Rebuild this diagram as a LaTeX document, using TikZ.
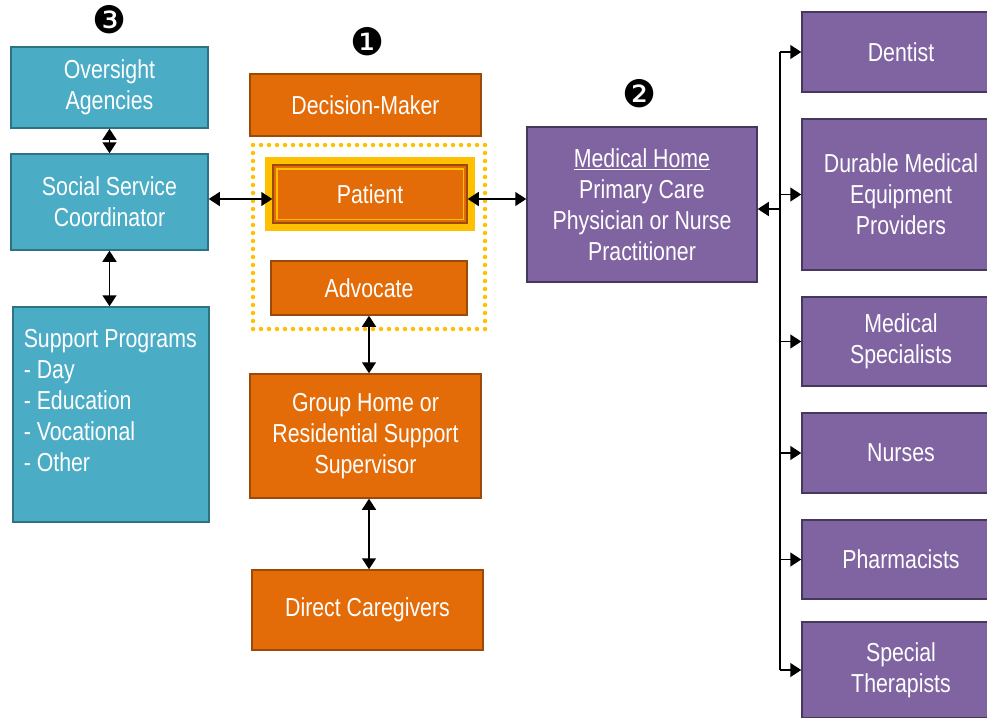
\documentclass[tikz,border=0pt]{standalone}
\usepackage{fontspec}
\setmainfont[FakeStretch=0.82]{Liberation Sans}
\newfontfamily\dingfont{DejaVu Sans}
\usetikzlibrary{arrows.meta}
\definecolor{tealfill}{HTML}{4BACC6}
\definecolor{tealline}{HTML}{2E7384}
\definecolor{orfill}{HTML}{E36C09}
\definecolor{orline}{HTML}{9C4A0A}
\definecolor{pufill}{HTML}{8064A2}
\definecolor{puline}{HTML}{46385C}
\definecolor{gold}{HTML}{FFC000}
\tikzset{
  basebox/.style={rectangle, line width=1.5pt, text=white, align=center,
    font=\fontsize{26}{31}\selectfont, inner sep=2pt},
  tealbox/.style={basebox, fill=tealfill, draw=tealline},
  orbox/.style={basebox, fill=orfill, draw=orline},
  pubox/.style={basebox, fill=pufill, draw=puline},
  dbl/.style={line width=1.5pt, {Triangle[width=14pt,length=11pt]}-{Triangle[width=14pt,length=11pt]}},
  sgl/.style={line width=1.5pt, -{Triangle[width=14pt,length=11pt]}},
  numlabel/.style={font=\dingfont\fontsize{38}{38}\selectfont, inner sep=0pt}
}
\begin{document}
\begin{tikzpicture}[x=1pt,y=-1pt]
\useasboundingbox (0,0) rectangle (987,717);

% numbers
\node[numlabel] (n3) at (110,20) {❸};
\node[numlabel] (n1) at (368,42) {❶};
\node[numlabel] (n2) at (640,94) {❷};

% left column
\node[tealbox, minimum width=197pt, minimum height=81pt] (ovs) at (109.5,87.5) {Oversight\\Agencies};
\node[tealbox, minimum width=197pt, minimum height=96pt] (ssc) at (109.5,202) {Social Service\\Coordinator};
\node[tealbox, minimum width=196pt, minimum height=215pt] (sup) at (111,414.5) {};
\node[basebox, anchor=north west, align=left] (supt) at (21,327) {Support Programs\\- Day\\- Education\\- Vocational\\- Other};

% center column
\node[orbox, minimum width=231pt, minimum height=62pt] (dm) at (365.5,105) {Decision-Maker};
\node[draw=gold, line width=4.5pt, line cap=round, dash pattern=on 0pt off 8pt,
      minimum width=232pt, minimum height=184pt, inner sep=0pt] (team) at (369,237) {};
\node[orbox, minimum width=194pt, minimum height=58pt] (pat) at (370,194) {Patient};
\draw[gold, line width=7pt] ([shift={(-3.5pt,-3.5pt)}]pat.south west) rectangle ([shift={(3.5pt,3.5pt)}]pat.north east);
\draw[gold, line width=1.5pt] ([shift={(4.5pt,4.5pt)}]pat.south west) rectangle ([shift={(-4.5pt,-4.5pt)}]pat.north east);
\node[orbox, minimum width=196pt, minimum height=54pt] (adv) at (369,288) {Advocate};
\node[orbox, minimum width=231pt, minimum height=124pt] (grp) at (365.5,436) {Group Home or\\Residential Support\\Supervisor};
\node[orbox, minimum width=231pt, minimum height=80pt] (dc) at (367.5,610) {Direct Caregivers};

% medical home
\node[pubox, minimum width=230pt, minimum height=155pt] (mh) at (642,204.5) {\underline{Medical Home}\\Primary Care\\Physician or Nurse\\Practitioner};

% right column
\node[pubox, minimum width=198pt, minimum height=80pt] (den) at (901,52) {Dentist};
\node[pubox, minimum width=198pt, minimum height=151pt] (dme) at (901,194.5) {Durable Medical\\Equipment\\Providers};
\node[pubox, minimum width=198pt, minimum height=89pt] (msp) at (901,341.5) {Medical\\Specialists};
\node[pubox, minimum width=198pt, minimum height=80pt] (nur) at (901,453) {Nurses};
\node[pubox, minimum width=198pt, minimum height=79pt] (pha) at (901,559.5) {Pharmacists};
\node[pubox, minimum width=198pt, minimum height=96pt] (spt) at (901,670) {Special\\Therapists};

% connectors
\draw[dbl] (ovs.south) -- (ssc.north);
\draw[dbl] (ssc.south) -- (ssc.south |- sup.north);
\coordinate (pl) at ([yshift=-5pt]pat.west);
\coordinate (pr) at ([yshift=-5pt]pat.east);
\draw[dbl] (pl -| ssc.east) -- (pl);
\draw[dbl] (pr) -- (pr -| mh.west);
\draw[dbl] (adv.south) -- (adv.south |- grp.north);
\draw[dbl] (adv.south |- grp.south) -- (adv.south |- dc.north);

\coordinate (bus) at (780,0);
\draw[line width=1.5pt] (den.west -| bus) -- (spt.west -| bus);
\foreach \b in {den,dme,msp,nur,pha,spt}{
  \draw[sgl] (\b.west -| bus) -- (\b.west);
}
\coordinate (mhin) at ([yshift=-4.5pt]mh.east);
\draw[sgl] (mhin -| bus) -- (mhin);
\end{tikzpicture}
\end{document}
